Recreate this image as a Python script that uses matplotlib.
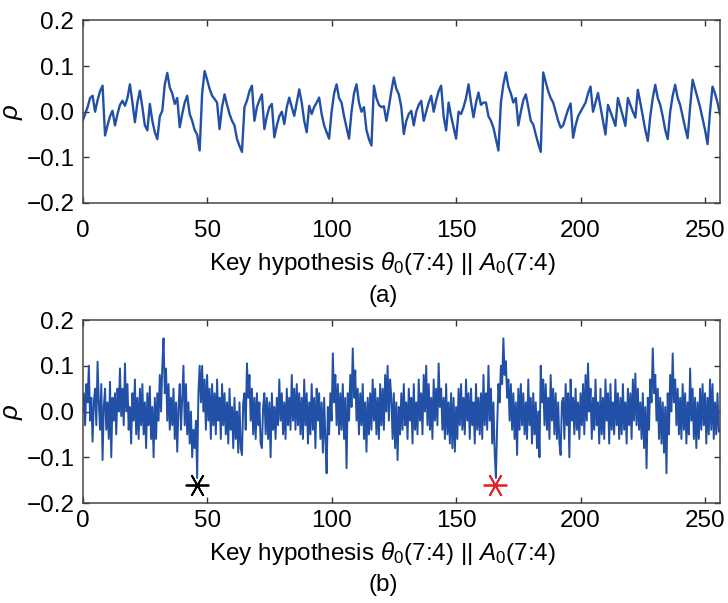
import numpy as np
import matplotlib
matplotlib.use("Agg")
import matplotlib.pyplot as plt

plt.rcParams['font.family'] = ['Liberation Sans', 'DejaVu Sans']
plt.rcParams['mathtext.fontset'] = 'custom'
plt.rcParams['mathtext.rm'] = 'Liberation Sans'
plt.rcParams['mathtext.it'] = 'Liberation Sans:italic'

# (a) correlation per key hypothesis, 0..256
rho_a = [
    -0.020, -0.005, 0.010, 0.030, 0.035, 0.000, 0.025, 0.045, 0.057, -0.052,
    -0.030, -0.010, 0.002, -0.030, -0.005, 0.015, 0.024, 0.013, 0.030, 0.060,
    0.020, -0.023, 0.020, 0.046, 0.010, -0.030, -0.041, 0.017, -0.020, -0.045,
    -0.060, -0.010, 0.002, 0.060, 0.085, 0.053, 0.040, 0.017, 0.030, -0.034,
    -0.005, 0.020, 0.035, -0.005, -0.020, -0.040, -0.050, -0.085, 0.040, 0.089,
    0.070, 0.050, 0.035, 0.028, 0.020, -0.038, 0.010, 0.038, 0.015, -0.005,
    -0.020, -0.030, -0.060, -0.075, -0.088, 0.010, 0.024, 0.045, 0.057, -0.020,
    0.010, 0.025, 0.038, -0.038, -0.010, 0.010, 0.017, -0.056, -0.030, -0.010,
    0.000, -0.027, 0.010, 0.031, 0.010, -0.009, 0.020, 0.049, 0.020, -0.020,
    -0.045, 0.013, -0.005, 0.010, 0.020, 0.031, -0.005, -0.030, -0.045, -0.059,
    0.000, 0.040, 0.060, 0.030, 0.020, -0.010, -0.035, -0.059, 0.000, 0.040,
    0.060, 0.020, 0.000, 0.010, -0.040, -0.060, -0.074, 0.057, 0.030, 0.015,
    0.010, 0.012, -0.020, 0.010, 0.045, 0.075, 0.050, 0.038, 0.010, -0.049,
    -0.020, -0.005, 0.002, -0.030, 0.000, 0.015, 0.024, -0.020, 0.000, 0.020,
    0.035, 0.000, 0.025, 0.045, 0.057, -0.010, -0.041, 0.020, -0.010, -0.035,
    -0.059, 0.000, -0.005, 0.010, 0.030, 0.060, 0.020, -0.012, 0.020, 0.042,
    0.015, 0.020, 0.020, -0.010, -0.020, -0.035, -0.060, -0.085, 0.020, 0.060,
    0.086, 0.055, 0.040, 0.020, 0.030, -0.030, 0.000, 0.025, 0.038, 0.010,
    -0.020, -0.028, -0.050, -0.070, -0.088, 0.086, 0.065, 0.045, 0.030, 0.020,
    0.000, -0.020, -0.035, -0.030, -0.012, 0.005, 0.018, -0.057, -0.030, -0.010,
    0.000, 0.010, 0.020, 0.040, 0.055, 0.000, 0.020, 0.041, 0.010, -0.020,
    -0.050, 0.015, 0.000, -0.015, -0.031, 0.030, 0.010, -0.010, -0.031, 0.030,
    0.015, 0.000, -0.013, 0.048, 0.020, -0.010, -0.040, -0.064, -0.010, 0.030,
    0.059, 0.030, 0.015, -0.010, -0.040, -0.060, 0.000, 0.035, 0.059, 0.030,
    0.015, -0.010, -0.035, -0.058, 0.010, 0.070, 0.050, 0.030, 0.010, -0.015,
    -0.040, -0.071, 0.000, 0.055, 0.040, 0.020, -0.006,
]

# (b) correlation in thousandths, two samples per key hypothesis unit
rho_b_milli = [
    0, 40, -30, 60, 20, 100, -20, 30, -66, 20, 50, -30, 109, 20, -40, 60,
    -106, 10, 50, -40, 20, -60, 65, -100, 30, -20, 40, -50, 50, 0, 94, -10,
    50, -30, 105, 0, 60, -40, 10, -70, 40, -20, 70, -50, 30, -60, 50, -30,
    60, -50, 20, -80, 40, -30, 55, -60, 10, -100, 30, -60, 40, -20, 80, 0,
    100, 160, 40, 94, -20, 60, -40, 30, -30, 50, -60, 20, -88, 10, 60, -40,
    30, 100, -30, 60, -50, 20, -70, 0, -100, -40, -80, -20, -145, 40, 100, 20,
    100, 0, 70, -40, 80, -20, 50, -60, 60, -30, 40, -50, 70, -20, 30, -60,
    60, -30, 40, -50, 20, -70, 50, -40, 10, -80, 30, -60, 0, -90, 20, -80,
    -95, 20, 40, -40, 105, 30, 80, -20, 50, -50, 30, -60, 40, -30, 20, -70,
    -80, 10, 40, -50, 30, -60, 20, -100, 40, -40, 10, -60, 30, -30, 70, -20,
    40, -50, 20, -60, 50, -30, 30, -40, 80, -20, 50, -40, 60, -30, 40, -50,
    30, -60, 70, -30, 40, -70, 20, -50, 60, -40, 30, -80, 50, -20, 40, -60,
    20, -90, 30, -60, -135, 10, -50, 40, -20, 127, 20, 80, -30, 60, -50, 40,
    -40, 60, -60, 30, -124, 40, -20, 80, 10, 138, 30, 90, -20, 50, -50, 40,
    -30, 60, -60, 20, -88, 30, -50, 40, -40, 70, -20, 50, -50, 30, -60, 60,
    -30, 50, -40, 80, 0, 100, -20, 70, 30, -60, 40, -80, 20, -106, 10, -50,
    40, -40, 60, -30, 20, -60, 50, -20, 30, -70, 60, -40, 20, -50, 70, -20,
    40, -50, 80, 0, 100, -30, 60, -40, 30, -60, 70, -20, 50, -30, 105, 10,
    50, -40, 30, -60, 60, -50, 20, -70, 40, -80, 30, -88, 10, -60, 50, -30,
    60, -40, 30, -50, 70, -20, 40, -60, 50, -30, 20, -70, 60, -40, 30, -50,
    40, -60, 80, -30, 40, -40, 100, -20, 50, -70, 20, -90, -145, -30, 60, 20,
    100, 60, 160, 80, 110, 30, 70, -20, 60, -40, 40, -60, 20, -95, 50, -40,
    60, -30, 40, -50, 20, -60, 70, -30, 30, -70, 40, -50, 20, -80, 0, -100,
    100, 20, 70, -30, 60, -40, 30, -60, 80, -20, 50, -50, 40, -60, 20, -70,
    -95, 20, 30, -60, 60, -30, 40, -100, 70, -20, 30, -50, 50, -40, 20, -60,
    40, -30, 60, -50, 80, -20, 105, 0, 50, -60, 30, -40, 70, -30, 20, -70,
    50, -50, 30, -60, 70, -20, 40, -70, 60, -40, 20, -50, 70, -30, 40, -60,
    30, -50, 60, -40, 20, -70, 50, -30, 40, -60, 70, -20, 83, -30, 50, -40,
    20, -60, 40, -80, 10, -124, 30, -40, 70, 20, 138, 40, 80, -20, 50, -60,
    30, -70, 20, -90, 10, -135, 40, -50, 80, 0, 127, 20, 70, -30, 50, -50,
    30, -60, 60, -40, 40, -70, 20, -50, 94, -20, 50, -60, 30, -80, 20, -60,
    50, -40, 60, -30, 40, -70, 30, -50, 70, -40, 60, -60, 20, -50, 40, -44,
    -40,
]

# marked hypotheses in (b)
mark_keys = [46, 165.5]
mark_rho = [-0.16, -0.16]
mark_colors = ['black', '#e8202a']

xticks = [0, 50, 100, 150, 200, 250]
yticks = [-0.2, -0.1, 0.0, 0.1, 0.2]
ytick_labels = ['\u22120.2', '\u22120.1', '0.0', '0.1', '0.2']
xlabel = r'Key hypothesis $\theta_0$(7:4) || $A_0$(7:4)'
line_color = '#2150a6'
fs = 17.5

x_a = np.arange(len(rho_a))
y_b = np.array(rho_b_milli) / 1000.0
x_b = np.arange(len(y_b)) / 2.0

fig = plt.figure(figsize=(7.28, 6.03), dpi=100)
ax1 = fig.add_axes([0.1135, 0.6634, 0.8755, 0.3027])
ax2 = fig.add_axes([0.1135, 0.1658, 0.8755, 0.3035])

ax1.plot(x_a, rho_a, color=line_color, lw=1.7)
ax2.plot(x_b, y_b, color=line_color, lw=1.4)
for k, r, c in zip(mark_keys, mark_rho, mark_colors):
    ax2.plot(k, r, marker=(6, 2, 90), color=c, ms=17, mew=1.3, ls='none')

for ax, xpad, label_y in ((ax1, 12, -0.255), (ax2, 5, -0.2)):
    ax.set_xlim(0, 256)
    ax.set_ylim(-0.2, 0.2)
    ax.set_xticks(xticks)
    ax.set_yticks(yticks)
    ax.set_yticklabels(ytick_labels)
    ax.tick_params(direction='in', top=True, right=True, length=4, width=1,
                   labelsize=fs, pad=6, color='#333333')
    ax.tick_params(axis='x', pad=xpad)
    for s in ax.spines.values():
        s.set_color('#4a4440')
        s.set_linewidth(1.1)
    ax.set_xlabel(xlabel, fontsize=fs)
    ax.xaxis.set_label_coords(0.47, label_y)
    ax.set_ylabel(r'$\rho$', fontsize=fs + 1)
    ax.yaxis.set_label_coords(-0.09, 0.5)

fig.text(0.527, 0.509, '(a)', ha='center', va='center', fontsize=fs)
fig.text(0.527, 0.030, '(b)', ha='center', va='center', fontsize=fs)

fig.savefig('out.png', dpi=100)
